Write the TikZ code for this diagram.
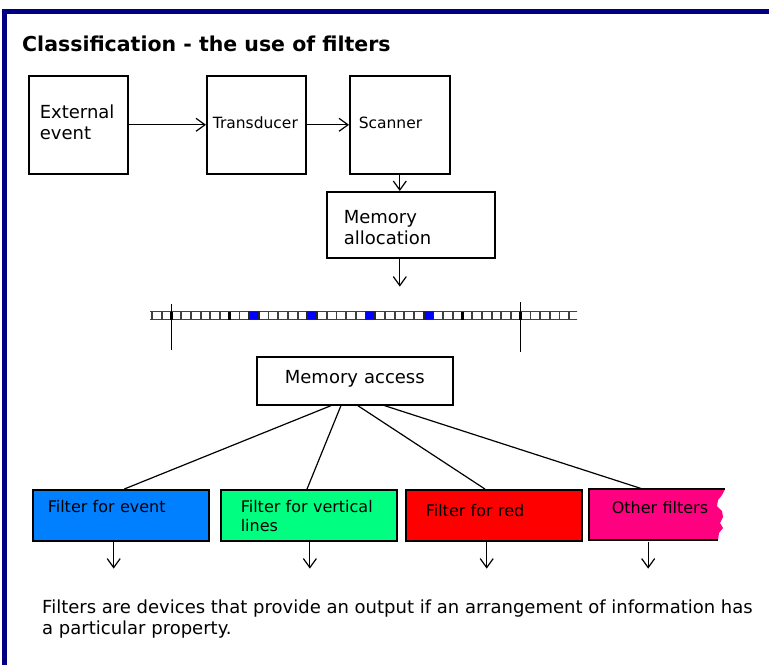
\documentclass[tikz,border=0pt]{standalone}
\usepackage{fontspec}
\setmainfont{DejaVu Sans}
\usetikzlibrary{arrows.meta,calc}

\definecolor{navyframe}{RGB}{0,0,128}
\definecolor{eventblue}{RGB}{0,128,255}
\definecolor{linegreen}{RGB}{0,255,128}
\definecolor{redfill}{RGB}{255,0,0}
\definecolor{otherpink}{RGB}{255,0,128}
\definecolor{cellblue}{RGB}{0,0,255}

\begin{document}
\begin{tikzpicture}[x=1pt, y=-1pt, >={Straight Barb[length=9pt,width=13pt]},
    every node/.style={font=\fontsize{18}{20.5}\selectfont}]
  \tikzstyle{box}=[draw, line width=1.6pt, anchor=north west, inner ysep=0pt, align=left]
  \tikzstyle{filt}=[box, font=\fontsize{16}{19}\selectfont, text height=23, text depth=28]
  \tikzstyle{conn}=[line width=1.2pt]
  \tikzstyle{cell}=[draw=black!75, line width=1.8pt, fill=white]

  \useasboundingbox (0,0) rectangle (769,665);
  % frame
  \fill[navyframe] (2,9) rectangle (7,665);
  \fill[navyframe] (2,9) rectangle (769,14);

  \node[anchor=base west, inner sep=0pt, font=\bfseries\fontsize{20.5}{24}\selectfont] (title) at (22,51) {Classification - the use of filters};

  % top row
  \node[box, inner xsep=11, text width=77, text height=43, text depth=55] (ext) at (28,75) {External\\event};
  \node[box, font=\fontsize{15.5}{18}\selectfont, inner xsep=6, text width=87, text height=53, text depth=45] (trans) at (206,75) {Transducer};
  \node[box, font=\fontsize{15.5}{18}\selectfont, inner xsep=9, text width=82, text height=53, text depth=45] (scan) at (349,75) {Scanner};
  \node[box, inner xsep=17, text width=134, text height=32, text depth=34] (alloc) at (326,191) {Memory\\allocation};

  \draw[conn,->] (ext) -- (trans);
  \draw[conn,->] (trans) -- (scan);
  \draw[conn,->] (scan.south) -- (scan.south |- alloc.north);
  \coordinate (memin) at ($(scan.south |- alloc.south)+(0,28)$);
  \draw[conn,->] (scan.south |- alloc.south) -- (memin);

  % memory cells
  \begin{scope}
    \clip (150,305) rectangle (577,326);
    \foreach \m in {-11,...,33}
      \draw[cell] (249.15+9.7*\m,311.5) rectangle ++(9.7,8);
    \foreach \m in {0,6,12,18}
      \draw[cell, fill=cellblue, draw=black!85] (249.15+9.7*\m,311.5) rectangle ++(9.7,8);
    \foreach \m in {-8,-2,22,28}
      \draw[line width=2.6pt] (249.15+9.7*\m,311.5) -- ++(0,8);
  \end{scope}
  \draw[conn] (171.5,304) -- (171.5,350);
  \draw[conn] (520.75,302) -- (520.75,352);

  \node[box, inner xsep=0pt, text width=196, align=center, text height=27, text depth=21] (macc) at (256,356) {Memory access};

  % filters
  \node[filt, fill=eventblue, inner xsep=15, text width=146] (fev) at (32,489) {\mbox{Filter for event}};
  \node[filt, fill=linegreen, inner xsep=20, text width=136] (fvl) at (220,489) {\mbox{Filter for vertical}\\lines};
  \node[filt, fill=redfill, inner xsep=20, text width=136, text height=27, text depth=24] (fred) at (405,489) {\mbox{Filter for red}};
  \fill[otherpink] (589,489) -- (725,489) -- (722,495) -- (718,500) -- (717,506) -- (722,511)
    -- (723,517) -- (720,523) -- (723,528) -- (719,533) -- (718,540) -- (589,540) -- cycle;
  \draw[line width=1.6pt] (725,489) -- (589,489) -- (589,540) -- (718,540);
  \node[filt, draw=none, inner xsep=22, text width=92, text height=24, text depth=27] (foth) at (589,489) {\mbox{Other filters}};

  \draw[conn] ($(macc.south west)!.38!(macc.south east)$) -- ($(fev.north west)!.52!(fev.north east)$);
  \draw[conn] ($(macc.south west)!.43!(macc.south east)$) -- ($(fvl.north west)!.49!(fvl.north east)$);
  \draw[conn] ($(macc.south west)!.515!(macc.south east)$) -- ($(fred.north west)!.45!(fred.north east)$);
  \draw[conn] ($(macc.south west)!.65!(macc.south east)$) -- ($(foth.north west)!.39!(foth.north east)$);

  \draw[conn,->] ($(fev.south west)!.46!(fev.south east)$) -- ++(0,27);
  \draw[conn,->] ($(fvl.south west)!.506!(fvl.south east)$) -- ++(0,27);
  \draw[conn,->] ($(fred.south west)!.46!(fred.south east)$) -- ++(0,27);
  \draw[conn,->] ($(foth.south west)!.43!(foth.south east)$) -- ++(0,27);

  \node[anchor=north west, inner sep=0pt, align=left] (note) at (42,600)
    {Filters are devices that provide an output if an arrangement of information has\\a particular property.};
\end{tikzpicture}
\end{document}
